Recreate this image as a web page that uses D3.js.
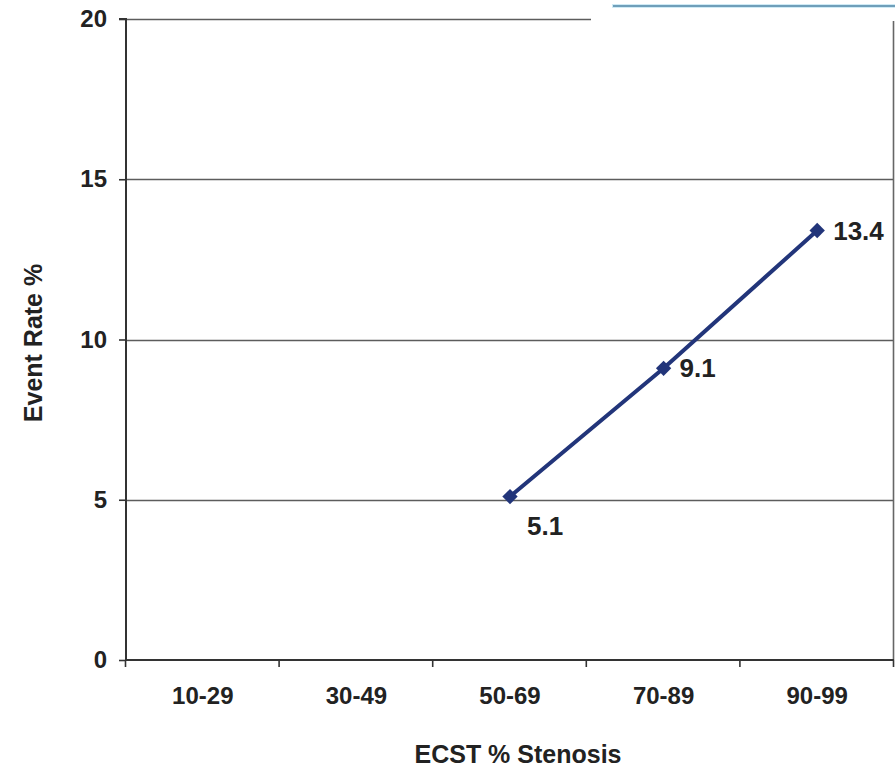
<!DOCTYPE html>
<html>
<head>
<meta charset="utf-8">
<script src="https://cdn.jsdelivr.net/npm/d3@7"></script>
<style>
  html, body { margin: 0; padding: 0; background: #fff; }
  svg { display: block; }
  text { font-family: "Liberation Sans", Arial, Helvetica, sans-serif; font-weight: bold; fill: #222; }
</style>
</head>
<body>
<svg id="chart" width="895" height="768"></svg>
<script>
// Stenosis bands and the event rate observed in each
const categories = ["10-29", "30-49", "50-69", "70-89", "90-99"];
const eventRates = [null, null, 5.1, 9.1, 13.4];
const yTicks = [0, 5, 10, 15, 20];
const xTitle = "ECST % Stenosis";
const yTitle = "Event Rate %";

const svg = d3.select("#chart");
const W = 895, H = 768;
const plot = { left: 126, right: 894, top: 19, bottom: 660 };

const x = d3.scaleBand().domain(categories).range([plot.left, plot.right]).paddingInner(0).paddingOuter(0);
const y = d3.scaleLinear().domain([0, 20]).range([plot.bottom, plot.top]);

// horizontal gridlines (the top one stops short, leaving the page gap)
const gridEnd = { 20: 591 };
svg.append("g").selectAll("line")
  .data(yTicks.filter(t => t > 0))
  .join("line")
  .attr("x1", plot.left)
  .attr("x2", d => gridEnd[d] || plot.right)
  .attr("y1", d => Math.round(y(d)) + 0.5)
  .attr("y2", d => Math.round(y(d)) + 0.5)
  .attr("stroke", "#5c5c5c")
  .attr("stroke-width", 1.6);

// right frame edge
svg.append("line")
  .attr("x1", plot.right - 0.5).attr("x2", plot.right - 0.5)
  .attr("y1", 21).attr("y2", plot.bottom)
  .attr("stroke", "#666").attr("stroke-width", 1.6);

// thin blue rule at the top right
svg.append("line")
  .attr("x1", 612).attr("x2", W).attr("y1", 6).attr("y2", 6)
  .attr("stroke", "#cfeaf5").attr("stroke-width", 4);
svg.append("line")
  .attr("x1", 613).attr("x2", W).attr("y1", 6).attr("y2", 6)
  .attr("stroke", "#4f86a6").attr("stroke-width", 1.4);

// y axis
const yAxis = d3.axisLeft(y).tickValues(yTicks).tickSize(7).tickPadding(12).tickFormat(d3.format("d"));
const gy = svg.append("g").attr("transform", `translate(${plot.left},0)`).call(yAxis);
gy.select(".domain").attr("stroke", "#333").attr("stroke-width", 2).attr("d", `M-7,${plot.top}H0V${plot.bottom}`);
gy.selectAll(".tick line").attr("stroke", "#333").attr("stroke-width", 1.6);
gy.selectAll(".tick text").attr("font-size", 24).attr("fill", "#222")
  .style("font-family", "'Liberation Sans', Arial, sans-serif").style("font-weight", "bold");

// x axis with ticks at band boundaries
const bounds = categories.map(c => x(c)).concat([plot.right]);
const gx = svg.append("g");
gx.append("line")
  .attr("x1", plot.left).attr("x2", plot.right)
  .attr("y1", plot.bottom).attr("y2", plot.bottom)
  .attr("stroke", "#333").attr("stroke-width", 2);
gx.selectAll("line.tk").data(bounds).join("line").attr("class", "tk")
  .attr("x1", d => d - 0.5).attr("x2", d => d - 0.5)
  .attr("y1", plot.bottom).attr("y2", plot.bottom + 7)
  .attr("stroke", "#333").attr("stroke-width", 1.6);
gx.selectAll("text").data(categories).join("text")
  .attr("x", d => x(d) + x.bandwidth() / 2)
  .attr("y", 704)
  .attr("text-anchor", "middle")
  .attr("font-size", 24)
  .text(d => d);

// axis titles
svg.append("text")
  .attr("x", 518).attr("y", 763)
  .attr("text-anchor", "middle").attr("font-size", 25)
  .text(xTitle);
svg.append("text")
  .attr("transform", `translate(42,343) rotate(-90)`)
  .attr("text-anchor", "middle").attr("font-size", 25)
  .text(yTitle);

// series line and markers
const pts = categories.map((c, i) => ({ c, v: eventRates[i] })).filter(d => d.v != null);
const cx = d => x(d.c) + x.bandwidth() / 2;
const line = d3.line().x(cx).y(d => y(d.v));
svg.append("path").datum(pts)
  .attr("d", line)
  .attr("fill", "none")
  .attr("stroke", "#22357a")
  .attr("stroke-width", 4);

svg.append("g").selectAll("path").data(pts).join("path")
  .attr("transform", d => `translate(${cx(d)},${y(d.v)})`)
  .attr("d", d3.symbol().type(d3.symbolDiamond2).size(150))
  .attr("fill", "#22357a");

// value labels: right of each marker, the lowest one tucked below
const minV = d3.min(pts, d => d.v);
svg.append("g").selectAll("text").data(pts).join("text")
  .attr("x", d => cx(d) + (d.v === minV ? 17 : 16))
  .attr("y", d => y(d.v) + (d.v === minV ? 38 : 9))
  .attr("font-size", 26)
  .text(d => d3.format(".1f")(d.v));
</script>
</body>
</html>
